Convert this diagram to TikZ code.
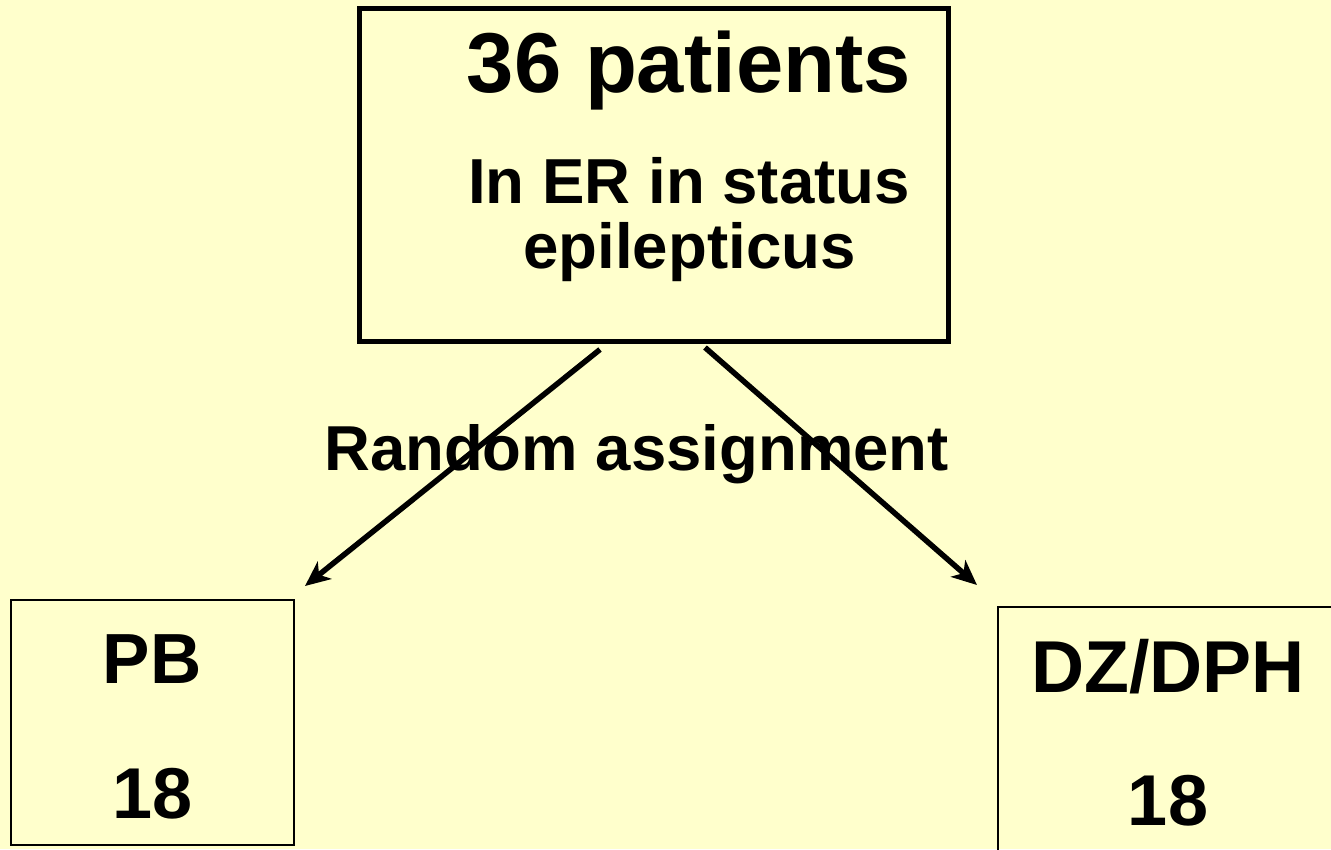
\documentclass[tikz,border=0pt]{standalone}
\usepackage{fontspec}
\setmainfont{Liberation Sans}
\usetikzlibrary{arrows.meta}
\definecolor{bgyellow}{RGB}{255,255,204}
\tikzset{
  boxthick/.style={draw=black, line width=5pt, fill=none, inner sep=0pt},
  boxthin/.style={draw=black, line width=2pt, fill=none, inner sep=0pt},
  txt/.style={anchor=base, inner sep=0pt, font=\bfseries},
  conn/.style={line width=5.5pt, -{Stealth[length=25pt,width=22pt,inset=7pt]}}
}
\begin{document}
\begin{tikzpicture}[x=1pt,y=-1pt]
\useasboundingbox (0,0) rectangle (1331,849);
\clip (0,0) rectangle (1331,849);
\fill[bgyellow] (0,0) rectangle (1331,849);
% boxes
\node[boxthick, minimum width=589pt, minimum height=333pt] (top) at (653.5,174.5) {};
\node[boxthin, minimum width=283pt, minimum height=245pt] (pb) at (152.5,722.5) {};
\node[boxthin, minimum width=360pt, minimum height=260pt, anchor=north west] (dz) at (997,606) {};
% texts
\node[txt, font=\bfseries\fontsize{85}{90}\selectfont] (t1) at (689,92) {36 patients};
\node[txt, font=\bfseries\fontsize{63.6}{70}\selectfont] (t2) at (689,203) {In ER in status};
\node[txt, font=\bfseries\fontsize{63.6}{70}\selectfont] (t3) at (689.5,268) {epilepticus};
\node[txt, font=\bfseries\fontsize{63.5}{70}\selectfont] (ra) at (636.5,470) {Random assignment};
\node[txt, font=\bfseries\fontsize{71}{76}\selectfont] (pbt) at (152,683) {PB};
\node[txt, font=\bfseries\fontsize{72}{76}\selectfont] (pbn) at (153,818) {18};
\node[txt, font=\bfseries\fontsize{73.5}{78}\selectfont] (dzt) at (1168,692) {DZ/DPH};
\node[txt, font=\bfseries\fontsize{72}{76}\selectfont] (dzn) at (1168,825) {18};
% connector ends
\coordinate (s1) at ([xshift=-53.5pt,yshift=-6pt]top.south);
\coordinate (s2) at ([xshift=51.5pt,yshift=-4pt]top.south);
\coordinate (e1) at ([xshift=10pt,yshift=13pt]pb.north east);
\coordinate (e2) at ([xshift=-20pt,yshift=21pt]dz.north west);
\draw[conn] (s1) -- (e1);
\draw[conn] (s2) -- (e2);
\end{tikzpicture}
\end{document}
